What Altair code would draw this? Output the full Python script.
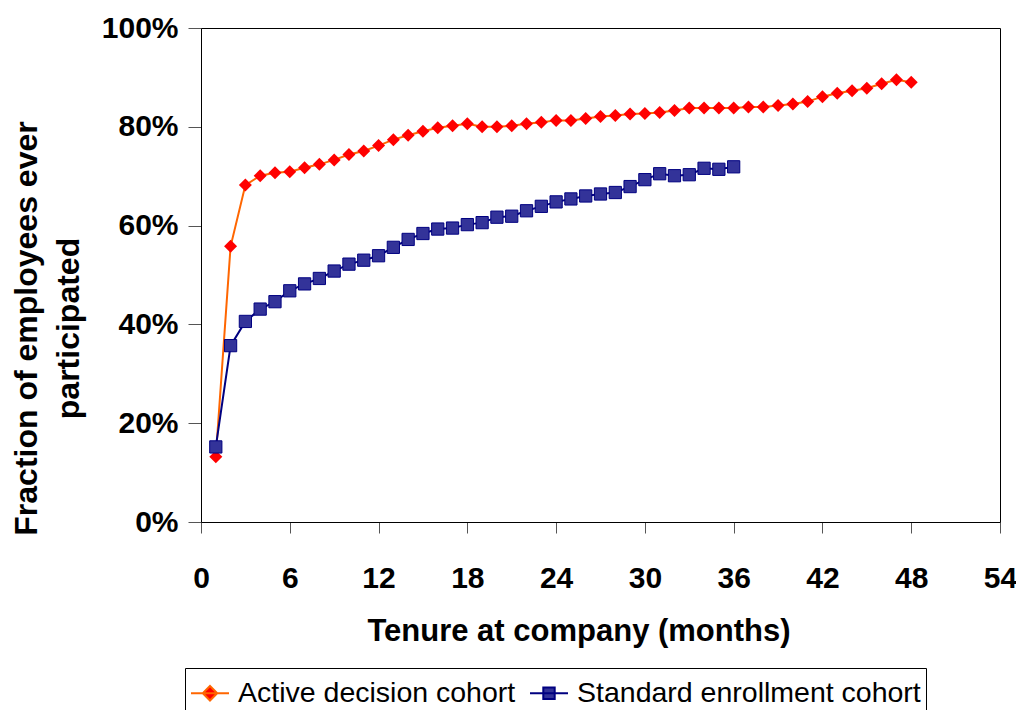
import altair as alt
import pandas as pd

series_names = ["Active decision cohort", "Standard enrollment cohort"]

active_months = [1, 2, 3, 4, 5, 6, 7, 8, 9, 10, 11, 12, 13, 14, 15, 16, 17, 18, 19, 20,
                 21, 22, 23, 24, 25, 26, 27, 28, 29, 30, 31, 32, 33, 34, 35, 36, 37, 38, 39, 40,
                 41, 42, 43, 44, 45, 46, 47, 48]
active_values = [13.2, 55.8, 68.2, 70.1, 70.7, 70.9, 71.7, 72.4, 73.3, 74.4,
                 75.1, 76.2, 77.4, 78.3, 79.1, 79.8, 80.2, 80.6, 80.0, 80.0,
                 80.2, 80.6, 80.9, 81.3, 81.3, 81.7, 82.1, 82.3, 82.6, 82.7,
                 82.9, 83.3, 83.8, 83.8, 83.8, 83.8, 84.0, 84.0, 84.3, 84.6,
                 85.1, 86.1, 86.8, 87.3, 87.8, 88.7, 89.5, 89.0]

standard_months = [1, 2, 3, 4, 5, 6, 7, 8, 9, 10, 11, 12, 13, 14, 15, 16, 17, 18,
                   19, 20, 21, 22, 23, 24, 25, 26, 27, 28, 29, 30, 31, 32, 33, 34, 35, 36]
standard_values = [15.2, 35.7, 40.6, 43.1, 44.6, 46.8, 48.2, 49.3, 50.8, 52.2,
                   53.0, 53.9, 55.6, 57.2, 58.4, 59.3, 59.5, 60.2, 60.6, 61.7,
                   61.9, 63.0, 63.9, 64.8, 65.4, 66.0, 66.4, 66.7, 67.9, 69.3,
                   70.5, 70.1, 70.3, 71.6, 71.4, 71.9]

x_ticks = [0, 6, 12, 18, 24, 30, 36, 42, 48, 54]
y_ticks = [0, 0.2, 0.4, 0.6, 0.8, 1.0]

line_colors = ["#FF6600", "#000080"]
fill_colors = ["#FF0000", "#333399"]
legend_shapes = [
    "M-1,0L1,0M0,-0.38L0.38,0L0,0.38L-0.38,0Z",
    "M-1,0L1,0M-0.3,-0.3L0.3,-0.3L0.3,0.3L-0.3,0.3Z",
]

rows = []
for m, v in zip(active_months, active_values):
    rows.append({"series": series_names[0], "month": m, "value": v / 100})
for m, v in zip(standard_months, standard_values):
    rows.append({"series": series_names[1], "month": m, "value": v / 100})
df = pd.DataFrame(rows)

FONT = "Liberation Sans"

x_enc = alt.X(
    "month:Q",
    scale=alt.Scale(domain=[0, 54], nice=False, zero=False),
    axis=alt.Axis(
        values=x_ticks, tickSize=11, labelPadding=30, labelFlush=False,
        title="Tenure at company (months)", titleX=377.5, titleY=118,
        titleAlign="center", titleBaseline="alphabetic", titleFontSize=31,
    ),
)
y_enc = alt.Y(
    "value:Q",
    scale=alt.Scale(domain=[0, 1], nice=False),
    axis=alt.Axis(
        values=y_ticks, format=".0%", tickSize=13, labelPadding=10, labelFlush=False,
        title=["Fraction of employees ever", "participated"],
        titleAngle=270, titleX=-165, titleY=300, titleAlign="center",
        titleBaseline="alphabetic", titleLineHeight=42, titleFontSize=32,
    ),
)

stroke_scale = alt.Scale(domain=series_names, range=line_colors)
fill_scale = alt.Scale(domain=series_names, range=fill_colors)
shape_scale = alt.Scale(domain=series_names, range=legend_shapes)

legend_def = alt.Legend(
    title=None, orient="none", legendX=-16, legendY=640, direction="horizontal",
    strokeColor="black", padding=5, symbolSize=1444, symbolStrokeWidth=2,
    labelFont=FONT, labelFontSize=28.5, labelColor="black", labelOffset=8,
    labelLimit=1000, columnPadding=10,
)

base = alt.Chart(df)

# invisible layer that only carries the legend (placed first so its legend wins)
legend_layer = base.mark_point(
    filled=True, size=0, opacity=1, strokeWidth=2
).encode(
    x=x_enc, y=y_enc,
    shape=alt.Shape("series:N", scale=shape_scale, legend=legend_def),
    fill=alt.Fill("series:N", scale=fill_scale, legend=legend_def),
    stroke=alt.Stroke("series:N", scale=stroke_scale, legend=legend_def),
)

lines = base.mark_line(strokeWidth=2).encode(
    x=x_enc, y=y_enc,
    stroke=alt.Stroke("series:N", scale=stroke_scale, legend=legend_def),
)

diamonds = base.transform_filter(
    alt.datum.series == series_names[0]
).mark_point(shape="diamond", filled=True, size=169, opacity=1, strokeWidth=0).encode(
    x=x_enc, y=y_enc,
    fill=alt.Fill("series:N", scale=fill_scale, legend=legend_def),
)

squares = base.transform_filter(
    alt.datum.series == series_names[1]
).mark_point(shape="square", filled=True, size=150, opacity=1,
             stroke="#000080", strokeWidth=1).encode(
    x=x_enc, y=y_enc,
    fill=alt.Fill("series:N", scale=fill_scale, legend=legend_def),
)

chart = alt.layer(legend_layer, lines, diamonds, squares).properties(
    width=799,
    height=494,
    autosize="none",
    padding={"left": 193, "top": 20, "right": 16, "bottom": 188},
).configure_view(
    stroke="black", strokeWidth=1
).configure_axis(
    grid=False,
    domainColor="black",
    domainWidth=1,
    tickColor="#555555",
    tickWidth=1,
    labelFont=FONT,
    labelFontSize=30,
    labelFontWeight="bold",
    labelColor="black",
    titleFont=FONT,
    titleFontWeight="bold",
    titleColor="black",
)

chart.save("out.html", embed_options={"renderer": "svg", "actions": False})
